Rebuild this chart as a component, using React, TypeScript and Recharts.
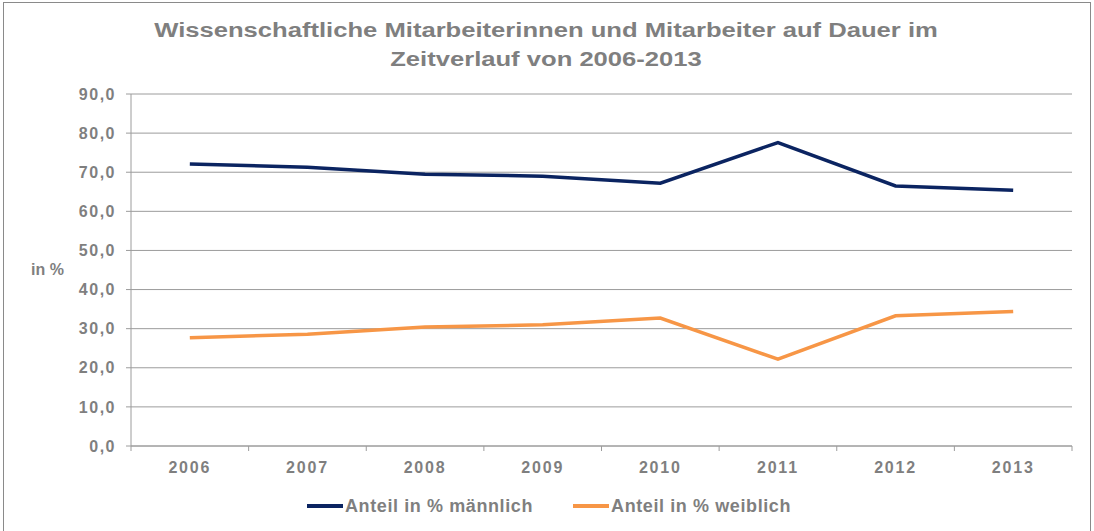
import { LineChart, Line, XAxis, YAxis, CartesianGrid } from 'recharts';

const years = ['2006', '2007', '2008', '2009', '2010', '2011', '2012', '2013'];
const maleShare = [72.1, 71.3, 69.5, 69.0, 67.2, 77.6, 66.5, 65.4];
const femaleShare = [27.7, 28.6, 30.4, 31.0, 32.7, 22.2, 33.3, 34.4];
const yTicks = [0, 10, 20, 30, 40, 50, 60, 70, 80, 90];

const seriesNames = ['Anteil in % männlich', 'Anteil in % weiblich'];
const seriesColors = ['#0B2461', '#F79646'];

const W = 1094;
const H = 531;
const margin = { top: 94, right: 22, left: 0, bottom: 55 };
const yAxisWidth = 131;
const band = (W - margin.left - margin.right - yAxisWidth) / years.length;

const textGray = '#7F7F7F';
const gridGray = '#9C9C9C';
const font = '"Liberation Sans", Arial, sans-serif';

const data = years.map((year, i) => ({
  year,
  male: maleShare[i],
  female: femaleShare[i],
}));

function YearTick(props: any) {
  const { x, y, payload, index } = props;
  const last = index === years.length - 1;
  return (
    <g>
      <line x1={x - band / 2} y1={y - 8} x2={x - band / 2} y2={y - 3} stroke={gridGray} />
      {last && <line x1={x + band / 2} y1={y - 8} x2={x + band / 2} y2={y - 3} stroke={gridGray} />}
      <text
        x={x}
        y={y + 19}
        textAnchor="middle"
        fill={textGray}
        fontFamily={font}
        fontWeight="bold"
        fontSize={16}
        letterSpacing={1.8}
      >
        {payload.value}
      </text>
    </g>
  );
}

export default function App() {
  return (
    <div style={{ position: 'absolute', left: 0, top: 0, width: W, height: H, background: '#fff', overflow: 'hidden' }}>
      <div
        style={{
          position: 'absolute',
          left: 3,
          top: 2,
          width: 1086,
          height: 560,
          border: '1px solid #8A8A8A',
        }}
      />
      <div
        style={{
          position: 'absolute',
          left: 0,
          top: 16,
          width: 1092,
          textAlign: 'center',
          fontFamily: font,
          fontWeight: 'bold',
          fontSize: 20,
          lineHeight: '29px',
          color: textGray,
          transform: 'scaleX(1.28)',
          transformOrigin: '546px 0',
        }}
      >
        Wissenschaftliche Mitarbeiterinnen und Mitarbeiter auf Dauer im
        <br />
        Zeitverlauf von 2006-2013
      </div>
      <div
        style={{
          position: 'absolute',
          left: 31,
          top: 261,
          fontFamily: font,
          fontWeight: 'bold',
          fontSize: 16,
          color: textGray,
        }}
      >
        in %
      </div>
      <LineChart width={W} height={H} data={data} margin={margin} style={{ position: 'absolute', left: 0, top: 0 }}>
        <CartesianGrid vertical={false} stroke={gridGray} strokeWidth={1} />
        <XAxis
          dataKey="year"
          height={30}
          tickLine={false}
          axisLine={{ stroke: gridGray }}
          tick={<YearTick />}
          interval={0}
          padding={{ left: band / 2, right: band / 2 }}
        />
        <YAxis
          width={yAxisWidth}
          domain={[0, 90]}
          ticks={yTicks}
          interval={0}
          tickSize={5}
          tickMargin={10}
          tickLine={{ stroke: gridGray }}
          axisLine={{ stroke: gridGray }}
          tickFormatter={(v: number) => v.toFixed(1).replace('.', ',')}
          tick={{ fill: textGray, fontFamily: font, fontWeight: 'bold', fontSize: 16, letterSpacing: 1.5 }}
        />
        <Line
          dataKey="male"
          name={seriesNames[0]}
          stroke={seriesColors[0]}
          strokeWidth={3.5}
          dot={false}
          isAnimationActive={false}
        />
        <Line
          dataKey="female"
          name={seriesNames[1]}
          stroke={seriesColors[1]}
          strokeWidth={3.5}
          dot={false}
          isAnimationActive={false}
        />
      </LineChart>
      <div
        style={{
          position: 'absolute',
          left: 307,
          top: 494,
          display: 'flex',
          gap: 40,
          fontFamily: font,
          fontWeight: 'bold',
          fontSize: 18,
          letterSpacing: 0.6,
          color: textGray,
          lineHeight: '24px',
        }}
      >
        {seriesNames.map((name, i) => (
          <div key={name} style={{ display: 'flex', alignItems: 'center' }}>
            <span style={{ display: 'inline-block', width: 36, height: 3.5, background: seriesColors[i], marginRight: 2 }} />
            <span>{name}</span>
          </div>
        ))}
      </div>
    </div>
  );
}
